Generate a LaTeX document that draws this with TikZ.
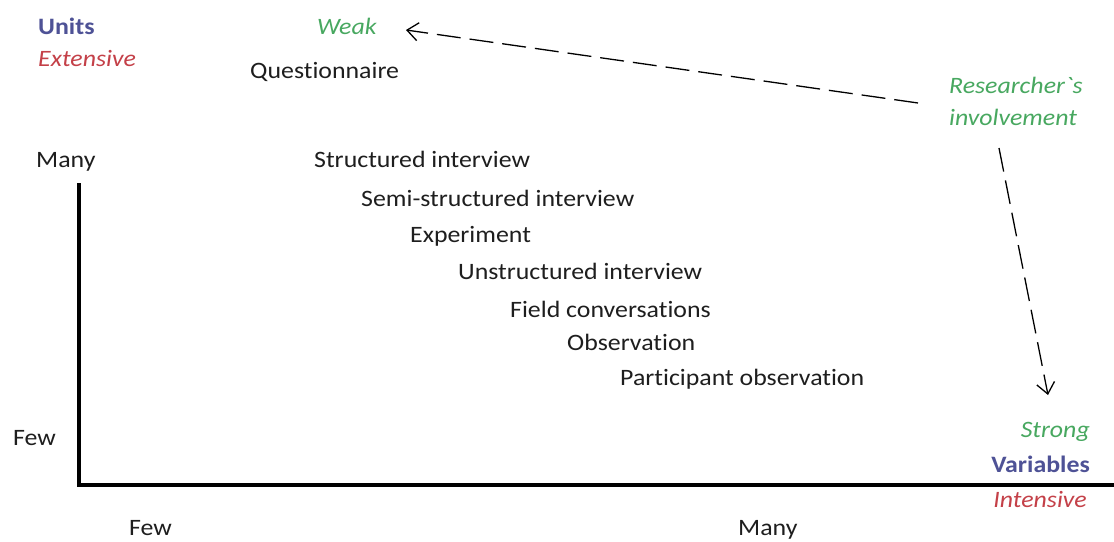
\documentclass[tikz,border=0pt]{standalone}
\usepackage{fontspec}
\setmainfont{Carlito}[FakeStretch=1.1,Ligatures=NoCommon]
\newfontfamily\plainfont{Carlito}[FakeStretch=1.1,Ligatures=NoCommon]
\usetikzlibrary{arrows.meta}
\definecolor{axisblue}{RGB}{78,82,150}
\definecolor{scalered}{RGB}{196,64,72}
\definecolor{involvegreen}{RGB}{72,168,96}
\definecolor{methodgray}{RGB}{30,30,30}
\begin{document}
\begin{tikzpicture}[x=1pt,y=-1pt,
  lbl/.style={inner sep=0pt,font=\fontsize{23.5}{28}\selectfont,text=methodgray},
  unitlbl/.style={lbl,font=\fontsize{23.5}{28}\selectfont\bfseries,text=axisblue},
  scalelbl/.style={lbl,font=\fontsize{23.5}{28}\selectfont\itshape,text=scalered},
  involvelbl/.style={lbl,font=\fontsize{23.5}{28}\selectfont\itshape,text=involvegreen},
  axisline/.style={line width=4pt,black},
  involvearrow/.style={line width=1.3pt,dash pattern=on 24pt off 9pt,
    -{Straight Barb[length=11pt,width=18pt,line width=1.3pt]}}]
\useasboundingbox (0,0) rectangle (1114,541);
\fill[white] (0,0) rectangle (1114,541);

% axes
\coordinate (origin) at (79,485);
\coordinate (ytop) at (79,183);
\coordinate (xend) at (1114,485);
\draw[axisline] (ytop) -- (origin.center) -- (xend);

% corner labels
\node[unitlbl,anchor=base west] (units) at (38,34) {Units};
\node[scalelbl,anchor=base west] (extensive) at (38,66) {Extensive};
\node[unitlbl,anchor=base east] (variables) at (1090,472) {Variables};
\node[scalelbl,anchor=base east] (intensive) at (1087,507) {Intensive};

% axis scale labels
\node[lbl,anchor=base west] (ymany) at (36,167) {Many};
\node[lbl,anchor=base west] (yfew) at (13,445) {Few};
\node[lbl,anchor=base west] (xfew) at (129,535) {Few};
\node[lbl,anchor=base west] (xmany) at (738,535) {Many};

% methods
\node[lbl,anchor=base west] (m1) at (250,78) {Questionnaire};
\node[lbl,anchor=base west] (m2) at (314,167) {Structured interview};
\node[lbl,anchor=base west] (m3) at (361,206) {Semi-structured interview};
\node[lbl,anchor=base west] (m4) at (410,242) {Experiment};
\node[lbl,anchor=base west] (m5) at (458,279) {Unstructured interview};
\node[lbl,anchor=base west] (m6) at (510,317) {Field conversations};
\node[lbl,anchor=base west] (m7) at (567,350) {Observation};
\node[lbl,anchor=base west] (m8) at (620,385) {Participant observation};

% researcher's involvement
\node[involvelbl,anchor=base west] (weak) at (317,34) {Weak};
\node[involvelbl,anchor=base east] (strong) at (1090,437) {Strong};
\node[involvelbl,anchor=base west,font=\fontsize{23.5}{28}\plainfont\itshape] (inv1) at (949,93) {Researcher`s};
\node[involvelbl,anchor=base west] (inv2) at (949,125) {involvement};

\coordinate (weaktip) at (406,30);
\coordinate (strongtip) at (1048,395);
\coordinate (invleft) at (918,103);
\coordinate (invdown) at (999,148);
\draw[involvearrow] (invleft) -- (weaktip);
\draw[involvearrow] (invdown) -- (strongtip);
\end{tikzpicture}
\end{document}
